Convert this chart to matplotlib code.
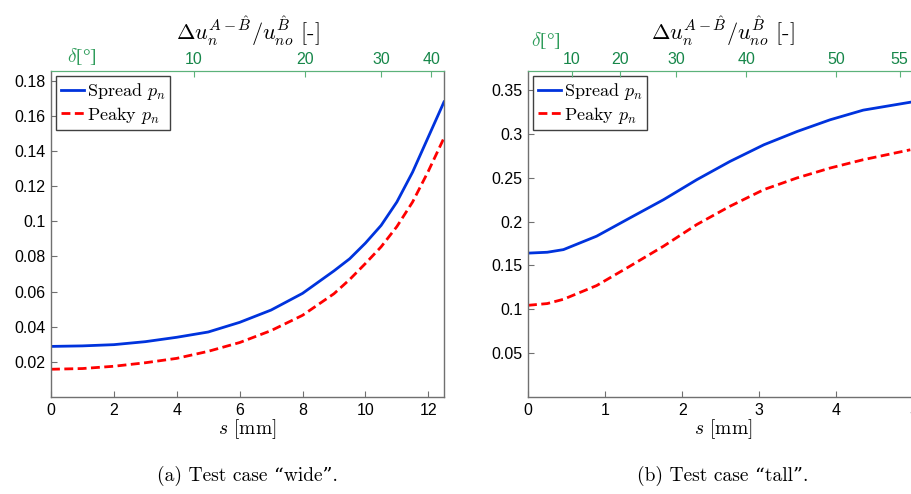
import numpy as np
import matplotlib
matplotlib.use('Agg')
import matplotlib.pyplot as plt
from matplotlib.ticker import FuncFormatter

plt.rcParams['mathtext.fontset'] = 'cm'
plt.rcParams['font.family'] = ['Liberation Sans', 'DejaVu Sans']

# test case "wide"
s_wide = [0, 1, 2, 3, 4, 5, 6, 7, 8, 9, 9.5, 10, 10.5, 11, 11.5, 12, 12.5]
spread_wide = [0.0288, 0.0291, 0.0298, 0.0315, 0.034, 0.0370, 0.0425, 0.0495, 0.0590,
               0.0718, 0.0787, 0.0876, 0.0977, 0.1110, 0.1280, 0.1480, 0.1680]
peaky_wide = [0.0158, 0.0162, 0.0175, 0.0195, 0.022, 0.026, 0.031, 0.0378, 0.0465,
              0.0588, 0.0669, 0.0760, 0.0855, 0.0970, 0.1110, 0.1285, 0.1475]
delta_wide_pos = [4.55, 8.08, 10.5, 12.09]
delta_wide_lbl = ['10', '20', '30', '40']

# test case "tall"
s_tall = [0, 0.25, 0.46, 0.89, 1.32, 1.76, 2.19, 2.62, 3.06, 3.49, 3.92, 4.35, 4.96]
spread_tall = [0.1640, 0.1650, 0.1680, 0.1833, 0.2040, 0.2250, 0.2477, 0.2685,
               0.2875, 0.3026, 0.3160, 0.3270, 0.3360]
peaky_tall = [0.1045, 0.1065, 0.1114, 0.1270, 0.1490, 0.1720, 0.1966, 0.2174,
              0.2364, 0.2497, 0.2610, 0.2705, 0.2818]
delta_tall_pos = [0.571, 1.19, 1.92, 2.83, 4.0, 4.82]
delta_tall_lbl = ['10', '20', '30', '40', '50', '55']

grey = '#707070'
green_tick = '#17874a'
green_line = '#5cb27a'
serif = ['cmr10', 'DejaVu Serif']

top_title = r'$\Delta u_n^{A-\hat{B}}/u_{no}^{\hat{B}}$ [-]'


def fmt(v, pos):
    return '%g' % v


def panel(ax, s, spread, peaky, xlim, ylim, yticks, xticks, dpos, dlbl, caption, dlab_xy):
    ax.plot(s, spread, '-', color='#0033dd', lw=2.0, label=r'Spread $p_n$')
    ax.plot(s, peaky, '--', color='#ff0000', lw=2.0, dashes=(3.2, 1.6), label=r'Peaky $p_n$')
    ax.set_xlim(*xlim)
    ax.set_ylim(*ylim)
    ax.set_yticks(yticks)
    ax.set_xticks(xticks)
    ax.yaxis.set_major_formatter(FuncFormatter(fmt))
    ax.tick_params(direction='in', length=4, color=grey, labelsize=11.5,
                   top=False, right=False, pad=4)
    for side in ['left', 'bottom', 'right']:
        ax.spines[side].set_color(grey)
        ax.spines[side].set_linewidth(1.0)
    ax.spines['top'].set_color(green_line)
    ax.set_xlabel(r'$s$ [mm]', fontsize=14, family=serif, labelpad=0)

    leg = ax.legend(loc='upper left', bbox_to_anchor=(0.0, 1.0),
                    prop={'family': 'cmr10', 'size': 13}, handlelength=1.3,
                    handletextpad=0.15, borderpad=0.25, labelspacing=0.15,
                    borderaxespad=0.3, fancybox=False, framealpha=1)
    leg.get_frame().set_edgecolor('#404040')
    leg.get_frame().set_linewidth(1.0)

    top = ax.twiny()
    top.set_xlim(*xlim)
    top.set_xticks(dpos)
    top.set_xticklabels(dlbl)
    top.tick_params(direction='in', length=4, color=green_line, labelcolor=green_tick,
                    labelsize=11.5, pad=3)
    top.spines['top'].set_color(green_line)
    for side in ['left', 'bottom', 'right']:
        top.spines[side].set_visible(False)
    top.set_title(top_title, fontsize=16, pad=22, family=serif)
    top.text(dlab_xy[0], dlab_xy[1], '$\\delta$[\u00b0]', transform=top.transAxes,
             color='#2e9c5a', fontsize=14, ha='center', va='bottom',
             family=['Liberation Serif', 'DejaVu Serif'])
    ax.text(0.5, -0.21, caption, transform=ax.transAxes, ha='center', va='top',
            fontsize=14, family=serif)


fig = plt.figure(figsize=(9.12, 4.94), dpi=100)
ax1 = fig.add_axes([51 / 912, 1 - 397 / 494, 393 / 912, 326 / 494])
ax2 = fig.add_axes([528 / 912, 1 - 397 / 494, 390 / 912, 326 / 494])

panel(ax1, s_wide, spread_wide, peaky_wide, (0, 12.5), (0, 0.1856),
      [0.02, 0.04, 0.06, 0.08, 0.1, 0.12, 0.14, 0.16, 0.18], [0, 2, 4, 6, 8, 10, 12],
      delta_wide_pos, delta_wide_lbl, '(a) Test case \u201cwide\u201d.', (0.08, 1.012))
panel(ax2, s_tall, spread_tall, peaky_tall, (0, 5.06), (0, 0.3716),
      [0.05, 0.1, 0.15, 0.2, 0.25, 0.3, 0.35], [0, 1, 2, 3, 4, 5],
      delta_tall_pos, delta_tall_lbl, '(b) Test case \u201ctall\u201d.', (0.045, 1.062))

fig.savefig('out.png', dpi=100)
